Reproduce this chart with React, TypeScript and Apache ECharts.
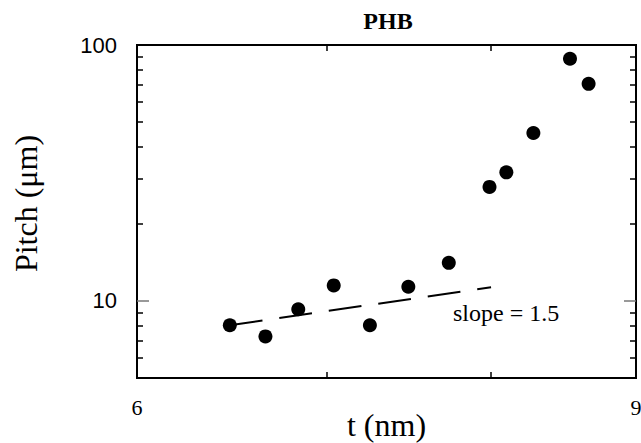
import React, { useEffect, useRef } from "react";
import * as echarts from "echarts";

// Film thickness t (nm) and pitch (µm)
const thickness = [6.47, 6.66, 6.84, 7.04, 7.25, 7.48, 7.73, 7.99, 8.1, 8.28, 8.53, 8.66];
const pitch = [8.04, 7.27, 9.28, 11.5, 8.04, 11.36, 14.09, 27.9, 31.8, 45.3, 88.4, 70.5];

// dashed reference line, slope = 1.5
const fitT = [6.47, 8.0];
const fitPitch = [8.04, 11.31];

const xTickLabels = [6, 9];
const xMinorTicks = [7, 8];
const yTickLabels = [10, 100];
const yMinorTicks = [6, 7, 8, 9, 20, 30, 40, 50, 60, 70, 80, 90];
const yMajorTicks = [10];

const serif = "Liberation Serif";
const sans = "Liberation Sans";

export default function App() {
  const ref = useRef<HTMLDivElement>(null);

  useEffect(() => {
    if (!ref.current) return;
    const chart = echarts.init(ref.current, undefined, { renderer: "svg" });

    const tickLine = { color: "#000", width: 1.5 };
    const baseX: any = {
      type: "log",
      logBase: 10,
      min: 6,
      max: 9,
      axisLine: { show: false },
      splitLine: { show: false },
      minorTick: { show: false },
      minorSplitLine: { show: false },
    };
    const baseY: any = {
      type: "log",
      logBase: 10,
      min: 5,
      max: 100,
      axisLine: { show: false },
      splitLine: { show: false },
      minorTick: { show: false },
      minorSplitLine: { show: false },
    };

    const option: any = {
      animation: false,
      backgroundColor: "#fff",
      grid: {
        left: 137,
        top: 45,
        width: 499,
        height: 333,
        show: true,
        borderColor: "#000",
        borderWidth: 2,
        backgroundColor: "transparent",
        containLabel: false,
        outerBoundsMode: "none",
      },
      xAxis: [
        {
          ...baseX,
          position: "bottom",
          name: "t (nm)",
          nameLocation: "middle",
          nameGap: 31,
          nameMoveOverlap: false,
          nameTextStyle: { fontFamily: serif, fontSize: 32, color: "#000", verticalAlign: "top" },
          axisLabel: { show: false },
          axisTick: { show: true, inside: true, length: 6, customValues: xMinorTicks, lineStyle: tickLine },
        },
        {
          ...baseX,
          position: "top",
          axisLabel: { show: false },
          axisTick: { show: true, inside: true, length: 6, customValues: xMinorTicks, lineStyle: tickLine },
        },
      ],
      yAxis: [
        {
          ...baseY,
          position: "left",
          name: "Pitch (μm)",
          nameLocation: "middle",
          nameGap: 95,
          nameRotate: 90,
          nameMoveOverlap: false,
          nameTextStyle: { fontFamily: serif, fontSize: 32, color: "#000", padding: [0, 0, 0, 16] },
          axisLabel: {
            show: true,
            customValues: yTickLabels,
            margin: 20,
            fontFamily: sans,
            fontSize: 22,
            color: "#000",
            formatter: (v: number) => String(v),
          },
          axisTick: { show: true, inside: true, length: 6, customValues: yMinorTicks, lineStyle: tickLine },
        },
        {
          ...baseY,
          position: "right",
          axisLabel: { show: false },
          axisTick: { show: true, inside: true, length: 6, customValues: yMinorTicks, lineStyle: tickLine },
        },
        {
          ...baseY,
          position: "left",
          axisLabel: { show: false },
          axisTick: { show: true, inside: true, length: 12, customValues: yMajorTicks, lineStyle: { color: "#777", width: 1.5 } },
        },
        {
          ...baseY,
          position: "right",
          axisLabel: { show: false },
          axisTick: { show: true, inside: true, length: 12, customValues: yMajorTicks, lineStyle: { color: "#777", width: 1.5 } },
        },
      ],
      series: [
        {
          type: "line",
          xAxisIndex: 0,
          yAxisIndex: 0,
          data: fitT.map((t, i) => [t, fitPitch[i]]),
          symbol: "none",
          lineStyle: { color: "#000", width: 2, type: [33, 17] },
          z: 2,
        },
        {
          type: "scatter",
          xAxisIndex: 0,
          yAxisIndex: 0,
          data: thickness.map((t, i) => [t, pitch[i]]),
          symbol: "circle",
          symbolSize: 14,
          itemStyle: { color: "#000", opacity: 1 },
          z: 3,
        },
      ],
    };

    chart.setOption(option);

    // x tick labels placed through the axis scale
    const labelEls = xTickLabels.map((v) => {
      const p = chart.convertToPixel({ xAxisIndex: 0, yAxisIndex: 0 }, [v, 5]) as number[];
      return {
        type: "text",
        x: p[0],
        y: p[1] + 18,
        style: {
          text: String(v),
          fontFamily: serif,
          fontSize: 22,
          fill: "#000",
          align: "center",
          verticalAlign: "top",
        },
      };
    });

    chart.setOption({
      graphic: [
        {
          type: "text",
          x: 388,
          y: 21,
          style: {
            text: "PHB",
            fontFamily: serif,
            fontSize: 24,
            fontWeight: "bold",
            fill: "#000",
            align: "center",
            verticalAlign: "middle",
          },
        },
        {
          type: "text",
          x: 453,
          y: 313,
          style: {
            text: "slope = 1.5",
            fontFamily: serif,
            fontSize: 24,
            fill: "#000",
            align: "left",
            verticalAlign: "middle",
          },
        },
        ...labelEls,
      ],
    });
    return () => chart.dispose();
  }, []);

  return (
    <div
      ref={ref}
      style={{ position: "absolute", left: 0, top: 0, width: 641, height: 443, background: "#fff" }}
    />
  );
}
